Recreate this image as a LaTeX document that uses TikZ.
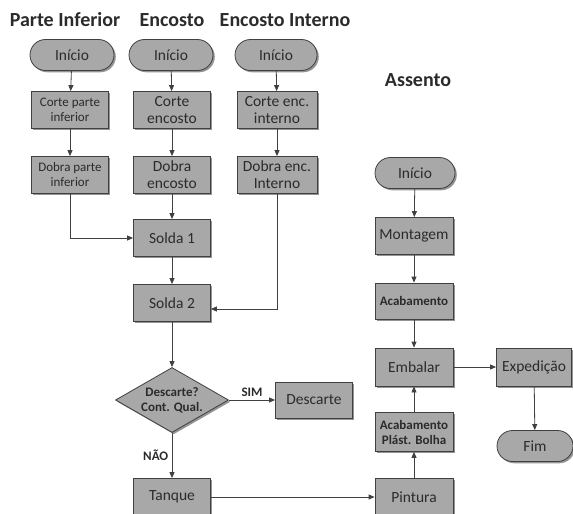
\documentclass[tikz,border=0pt]{standalone}
\usepackage{fontspec}
\setmainfont{Carlito}
\usetikzlibrary{shapes.geometric,shadows,arrows.meta}

\definecolor{boxgray}{HTML}{A8A8A8}
\definecolor{linegray}{HTML}{404040}
\definecolor{textgray}{HTML}{2B2B2B}

\tikzset{
	base/.style={draw=linegray,fill=boxgray,line width=0.8pt,align=center,inner sep=1pt,
		text=textgray,font=\fontsize{15.5}{17}\selectfont,
		drop shadow={shadow xshift=1.8pt,shadow yshift=-1.8pt,fill=black!60,opacity=0.7}},
	proc/.style={base,rectangle,minimum width=77pt,minimum height=37pt},
	term/.style={base,rectangle,rounded corners=15.5pt,minimum width=84pt,minimum height=31pt},
	small/.style={font=\fontsize{13}{15}\selectfont},
	smallbf/.style={font=\fontsize{13}{15}\selectfont\bfseries},
	decision/.style={base,diamond,aspect=1.74,inner sep=0pt,minimum width=113pt,minimum height=65pt},
	title/.style={text=textgray,font=\fontsize{20}{22}\selectfont\bfseries},
	flow/.style={draw=linegray,line width=0.8pt,-{Triangle[length=6pt,width=5pt]}}
}

\begin{document}
\begin{tikzpicture}[x=1pt,y=-1pt]
	\useasboundingbox (0,0) rectangle (573,514);

	% titles
	\node[title] (tPI) at (65,20) {Parte Inferior};
	\node[title] (tE) at (172,20) {Encosto};
	\node[title] (tEI) at (285,20) {Encosto Interno};
	\node[title] (tA) at (418,80) {Assento};

	% parte inferior
	\node[term] (I1) at (72,55) {Início};
	\node[proc,small] (C1) at (70,110) {Corte parte\\inferior};
	\node[proc,small] (D1) at (70,175) {Dobra parte\\inferior};

	% encosto
	\node[term] (I2) at (171,55) {Início};
	\node[proc] (C2) at (172,110) {Corte\\encosto};
	\node[proc] (D2) at (172,175) {Dobra\\encosto};
	\node[proc] (S1) at (172,238) {Solda 1};

	% encosto interno
	\node[term,minimum width=82pt] (I3) at (276,55) {Início};
	\node[proc,minimum width=80pt] (C3) at (277,110) {Corte enc.\\interno};
	\node[proc,minimum width=80pt] (D3) at (277,175) {Dobra enc.\\Interno};

	\node[proc] (S2) at (172,303) {Solda 2};
	\node[decision,smallbf] (Q) at (172,400) {Descarte?\\Cont. Qual.};
	\node[proc,minimum height=36pt] (X) at (314,400) {Descarte};
	\node[proc] (T) at (172,497) {Tanque};

	% assento
	\node[term,minimum width=80pt] (I4) at (415,173) {Início};
	\node[proc,minimum width=78pt] (M) at (414,236) {Montagem};
	\node[proc,smallbf,minimum width=78pt,minimum height=36pt] (A) at (414,301) {Acabamento};
	\node[proc,minimum width=78pt,minimum height=38pt] (E) at (414,367) {Embalar};
	\node[proc,smallbf,minimum width=78pt,minimum height=39pt] (B) at (414,432) {Acabamento\\Plást. Bolha};
	\node[proc,minimum width=78pt] (P) at (414,497) {Pintura};
	\node[proc,minimum width=75pt,minimum height=38pt] (Ex) at (534,367) {Expedição};
	\node[term,minimum width=76pt] (F) at (535,446) {Fim};

	\draw[flow] (I1) -- (C1);
	\draw[flow] (C1) -- (D1);
	\draw[flow] (D1) |- (S1);
	\draw[flow] (I2) -- (C2);
	\draw[flow] (C2) -- (D2);
	\draw[flow] (D2) -- (S1);
	\draw[flow] (I3) -- (C3);
	\draw[flow] (C3) -- (D3);
	\draw[flow] (D3) |- ([yshift=-6pt]S2.east);
	\draw[flow] (S1) -- (S2);
	\draw[flow] (S2) -- (Q);
	\draw[flow] (Q) -- node[above,smallbf,text=textgray] {SIM} (X);
	\draw[flow] (Q) -- node[left,smallbf,text=textgray] {NÃO} (T);
	\draw[flow] (T) -- (P);
	\draw[flow] (P) -- (B);
	\draw[flow] (B) -- (E);
	\draw[flow] (I4) -- (M);
	\draw[flow] (M) -- (A);
	\draw[flow] (A) -- (E);
	\draw[flow] (E) -- (Ex);
	\draw[flow] (Ex) -- (F);
\end{tikzpicture}
\end{document}
